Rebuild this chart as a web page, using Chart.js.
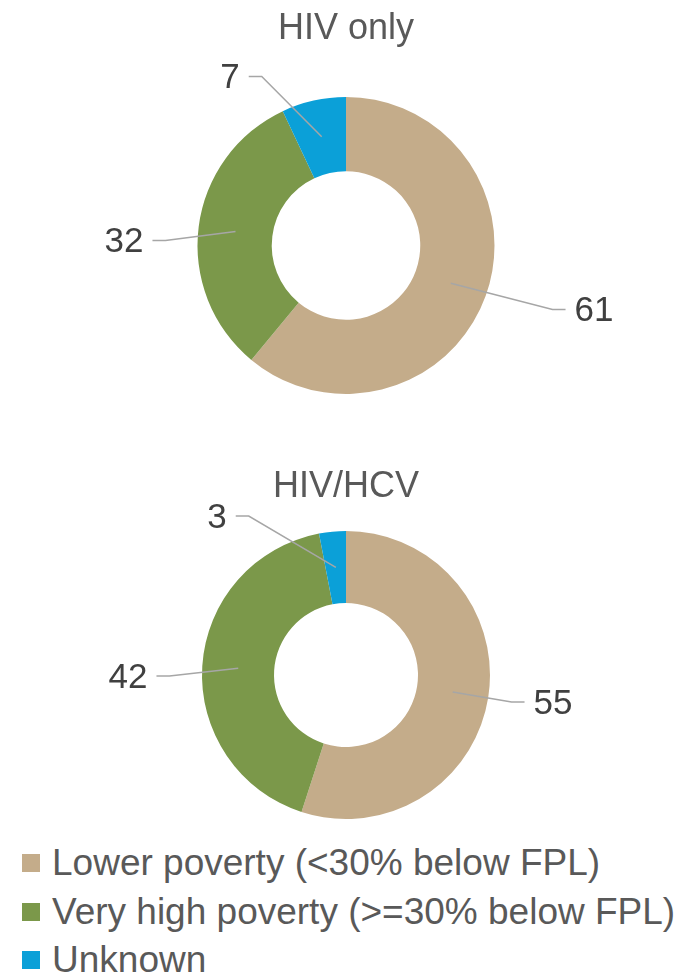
<!DOCTYPE html>
<html>
<head>
<meta charset="utf-8">
<script src="https://cdn.jsdelivr.net/npm/chart.js@4.4.1/dist/chart.umd.min.js"></script>
<style>
html,body{margin:0;padding:0;background:#fff;}
body{width:685px;height:975px;position:relative;overflow:hidden;font-family:"Liberation Sans",Arial,sans-serif;}
.wrap{position:absolute;left:0;width:685px;}
#w1{top:0;height:420px;}
#w2{top:430px;height:400px;}
#legend{position:absolute;left:0;top:839px;width:685px;}
.li{display:flex;align-items:center;height:48.5px;font-size:37px;color:#595959;white-space:nowrap;}
.sw{width:18px;height:18px;margin-left:22px;margin-right:12px;flex:none;}
</style>
</head>
<body>
<div class="wrap" id="w1"><canvas id="c1"></canvas></div>
<div class="wrap" id="w2"><canvas id="c2"></canvas></div>
<div id="legend"></div>
<script>
// ---- data ----
const categories = ["Lower poverty (<30% below FPL)", "Very high poverty (>=30% below FPL)", "Unknown"];
const hivOnlyValues = [61, 32, 7];
const hivHcvValues = [55, 42, 3];
const chartTitles = ["HIV only", "HIV/HCV"];

// ---- style ----
const sliceColors = ["#C4AC8A", "#7B984A", "#0BA0D8"];
const textDark = "#404040";
const textGray = "#595959";
const leaderColor = "#A6A6A6";
const fontFamily = '"Liberation Sans", Arial, sans-serif';

// label placement (offsets of label centre from the doughnut centre, px)
const labelOffsets1 = [[248, 65], [-222, -4], [-116, -168]];
const labelOffsets2 = [[207, 28], [-218, 2], [-129, -158]];

const calloutPlugin = {
  id: 'callouts',
  afterDatasetsDraw(chart, args, opts) {
    const ctx = chart.ctx;
    const meta = chart.getDatasetMeta(0);
    const values = chart.data.datasets[0].data;
    ctx.save();
    // title
    const first = meta.data[0];
    const cx = first.x, cy = first.y;
    ctx.font = '36px ' + fontFamily;
    ctx.fillStyle = textGray;
    ctx.textAlign = 'center';
    ctx.textBaseline = 'alphabetic';
    ctx.fillText(opts.title, cx, opts.titleBaseline);
    // callouts
    ctx.font = '35px ' + fontFamily;
    meta.data.forEach((arc, i) => {
      const p = arc.getProps(['x', 'y', 'startAngle', 'endAngle', 'innerRadius', 'outerRadius'], true);
      const mid = (p.startAngle + p.endAngle) / 2;
      const rMid = (p.innerRadius + p.outerRadius) / 2;
      const sx = p.x + Math.cos(mid) * rMid;
      const sy = p.y + Math.sin(mid) * rMid;
      const off = opts.offsets[i];
      const lx = p.x + off[0], ly = p.y + off[1];
      const txt = String(values[i]);
      const w = ctx.measureText(txt).width;
      const gap = 9, horiz = 13;
      let ex, elx;
      if (lx > sx) { ex = lx - w / 2 - gap; elx = ex - horiz; }
      else { ex = lx + w / 2 + gap; elx = ex + horiz; }
      const lineY = ly - 1;
      ctx.strokeStyle = leaderColor;
      ctx.lineWidth = 1.5;
      ctx.beginPath();
      ctx.moveTo(sx, sy);
      ctx.lineTo(elx, lineY);
      ctx.lineTo(ex, lineY);
      ctx.stroke();
      ctx.fillStyle = textDark;
      ctx.textAlign = 'center';
      ctx.textBaseline = 'middle';
      ctx.fillText(txt, lx, ly + 1);
    });
    ctx.restore();
  }
};

function makeChart(id, values, title, titleBaseline, offsets, padding) {
  return new Chart(document.getElementById(id), {
    type: 'doughnut',
    data: {
      labels: categories,
      datasets: [{
        data: values,
        backgroundColor: sliceColors,
        borderWidth: 0,
        hoverOffset: 0,
        offset: 0
      }]
    },
    options: {
      responsive: true,
      maintainAspectRatio: false,
      animation: false,
      events: [],
      cutout: '50%',
      layout: { padding: padding },
      plugins: {
        legend: { display: false },
        tooltip: { enabled: false },
        title: { display: false },
        callouts: { title: title, titleBaseline: titleBaseline, offsets: offsets }
      }
    },
    plugins: [calloutPlugin]
  });
}

makeChart('c1', hivOnlyValues, chartTitles[0], 39, labelOffsets1, { top: 97, bottom: 26, left: 7, right: 0 });
makeChart('c2', hivHcvValues, chartTitles[1], 67, labelOffsets2, { top: 101, bottom: 11, left: 7, right: 0 });

// legend
const legend = document.getElementById('legend');
categories.forEach((c, i) => {
  const row = document.createElement('div');
  row.className = 'li';
  const sw = document.createElement('span');
  sw.className = 'sw';
  sw.style.background = sliceColors[i];
  const t = document.createElement('span');
  t.textContent = c;
  row.appendChild(sw);
  row.appendChild(t);
  legend.appendChild(row);
});
</script>
</body>
</html>
